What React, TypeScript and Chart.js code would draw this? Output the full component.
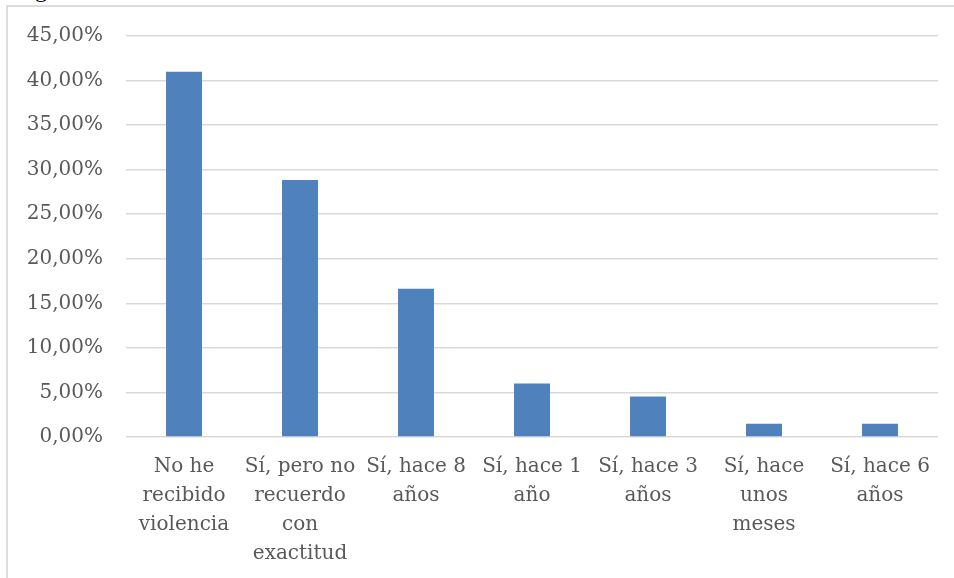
import React, { useEffect, useRef } from "react";
import { Chart, registerables } from "chart.js";

Chart.register(...registerables);

const categories: string[][] = [
  ["No he", "recibido", "violencia"],
  ["Sí, pero no", "recuerdo", "con", "exactitud"],
  ["Sí, hace 8", "años"],
  ["Sí, hace 1", "año"],
  ["Sí, hace 3", "años"],
  ["Sí, hace", "unos", "meses"],
  ["Sí, hace 6", "años"],
];
const percentages: number[] = [41.0, 28.85, 16.65, 6.0, 4.55, 1.5, 1.5];
const yMax = 45;
const yStep = 5;

export default function App() {
  const ref = useRef<HTMLCanvasElement | null>(null);

  useEffect(() => {
    if (!ref.current) return;
    const font = { family: "'DejaVu Serif', serif", size: 20 };
    const chart = new Chart(ref.current, {
      type: "bar",
      data: {
        labels: categories,
        datasets: [
          {
            data: percentages,
            backgroundColor: "#4f81bd",
            borderWidth: 0,
            categoryPercentage: 1,
            barPercentage: 0.31,
          },
        ],
      },
      options: {
        responsive: false,
        animation: false,
        devicePixelRatio: 1,
        layout: { padding: { left: 0, top: 36, right: 16, bottom: 0 } },
        plugins: {
          legend: { display: false },
          tooltip: { enabled: false },
        },
        scales: {
          x: {
            grid: { display: false, drawTicks: false },
            border: { display: false },
            ticks: {
              color: "#595959",
              font: { ...font, lineHeight: 1.45 },
              padding: 15,
              maxRotation: 0,
              minRotation: 0,
              autoSkip: false,
            },
            afterFit: (s: any) => {
              s.height = 141;
            },
          },
          y: {
            min: 0,
            max: yMax,
            grid: { color: "#d9d9d9", lineWidth: 1.5, drawTicks: false },
            border: { display: false },
            ticks: {
              stepSize: yStep,
              color: "#595959",
              font,
              padding: 23,
              callback: (v: any) => Number(v).toFixed(2).replace(".", ",") + "%",
            },
            afterFit: (s: any) => {
              s.width = 126;
            },
          },
        },
      },
    });
    return () => chart.destroy();
  }, []);

  return (
    <div
      style={{
        position: "fixed",
        left: 0,
        top: 0,
        width: 954,
        height: 578,
        background: "#fff",
        overflow: "hidden",
      }}
    >
      <div
        style={{
          position: "absolute",
          left: 15,
          top: -23,
          fontFamily: "'Liberation Serif', serif",
          fontSize: 24,
          lineHeight: 1,
          color: "#000",
          whiteSpace: "nowrap",
        }}
      >
        Figura 1
      </div>
      <div
        style={{
          position: "absolute",
          left: 6,
          top: 5,
          width: 960,
          height: 600,
          border: "2px solid #dcdcdc",
          boxSizing: "border-box",
        }}
      />
      <canvas
        ref={ref}
        width={954}
        height={578}
        style={{ position: "absolute", left: 0, top: 0, width: 954, height: 578 }}
      />
    </div>
  );
}
